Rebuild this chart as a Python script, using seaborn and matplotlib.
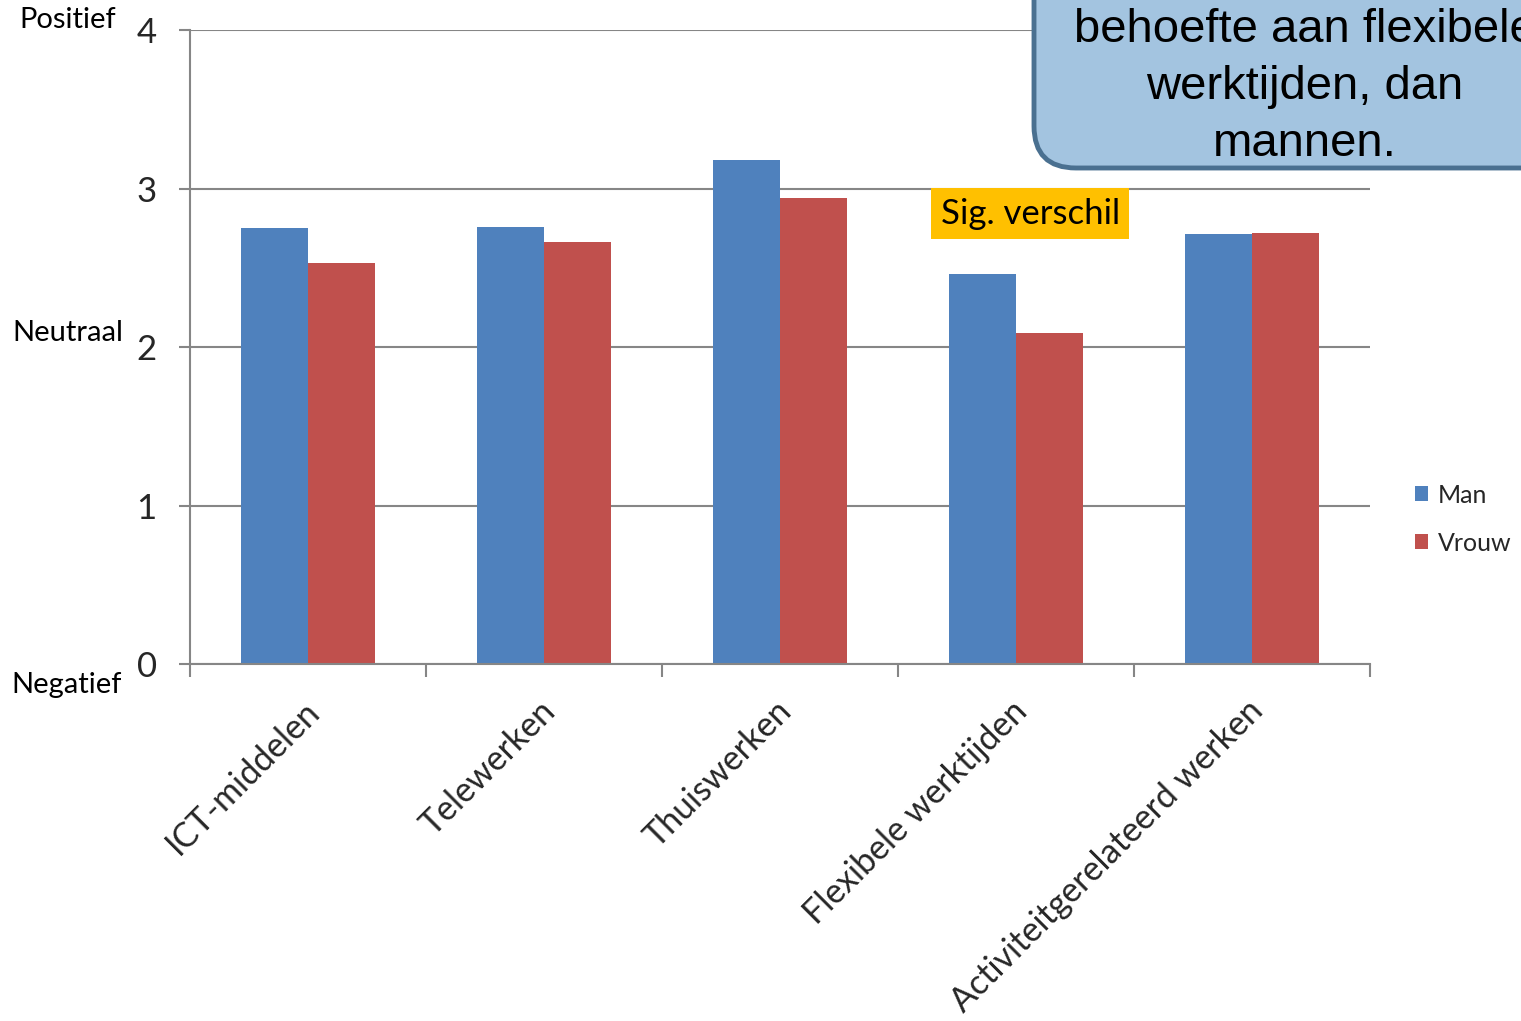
import numpy as np
import pandas as pd
import seaborn as sns
import matplotlib.pyplot as plt
import matplotlib.patches as mpatches
import matplotlib.transforms as mtransforms

# -----------------------
# Data
# -----------------------
categories = ["ICT-middelen", "Telewerken", "Thuiswerken",
              "Flexibele werktijden", "Activiteitgerelateerd werken"]
series = ["Man", "Vrouw"]
man = [2.75, 2.76, 3.18, 2.46, 2.71]
vrouw = [2.53, 2.66, 2.94, 2.09, 2.72]
yticks = [0, 1, 2, 3, 4]
scale_labels = ["Negatief", "Neutraal", "Positief"]
scale_values = [0, 2, 4]
callout_lines = ["behoefte aan flexibele", "werktijden, dan", "mannen."]

colors = ["#4f81bd", "#c0504d"]
gray = "#868686"

df = pd.DataFrame({
    "Categorie": categories * 2,
    "Score": man + vrouw,
    "Geslacht": [series[0]] * len(man) + [series[1]] * len(vrouw),
})

sns.set_theme(style="white")
plt.rcParams["font.family"] = ["Lato", "DejaVu Sans"]

fig = plt.figure(figsize=(15.21, 10.21), dpi=100)
fig.patch.set_facecolor("white")
ax = fig.add_axes([190 / 1521, 357 / 1021, 1180 / 1521, 634 / 1021])

sns.barplot(data=df, x="Categorie", y="Score", hue="Geslacht",
            order=categories, hue_order=series, palette=colors,
            width=0.57, gap=0, saturation=1, linewidth=0, ax=ax)

ax.set_ylim(0, 4)
ax.set_xlim(-0.5, len(categories) - 0.5)
ax.set_xlabel("")
ax.set_ylabel("")

# grid + spines
ax.set_axisbelow(True)
ax.yaxis.grid(True, color=gray, lw=1.5)
for s in ["top", "right"]:
    ax.spines[s].set_visible(False)
for s in ["left", "bottom"]:
    ax.spines[s].set_color(gray)
    ax.spines[s].set_linewidth(1.5)

ax.set_yticks(yticks)
ax.tick_params(axis="y", length=8, width=1.5, color=gray, pad=16,
               labelsize=25, left=True)
ax.set_xticks(np.arange(-0.5, len(categories), 1), minor=True)
ax.tick_params(axis="x", which="minor", length=9, width=1.5, color=gray,
               bottom=True)
ax.tick_params(axis="x", which="major", length=0, pad=22, labelsize=24.5)
for lab in ax.get_xticklabels():
    lab.set_rotation(45)
    lab.set_ha("right")
    lab.set_va("top")
    lab.set_rotation_mode("anchor")
    lab.set_transform(lab.get_transform() +
                      mtransforms.ScaledTranslation(-0.05, 0, fig.dpi_scale_trans))

# Positief / Neutraal / Negatief
blend = mtransforms.blended_transform_factory(fig.transFigure, ax.transData)
offsets = [-0.13, 0.09, 0.065]
right_px = [122, 123, 116]
for lab, v, off, rx in zip(scale_labels, scale_values, offsets, right_px):
    ax.text(rx / 1521, v + off, lab, transform=blend, ha="right",
            va="center", fontsize=21, color="black")

# legend
handles, labels = ax.get_legend_handles_labels()
ax.legend(handles, labels, loc="center left",
          bbox_to_anchor=(1392 / 1521, 502 / 1021),
          bbox_transform=fig.transFigure, frameon=False, fontsize=18,
          handlelength=0.55, handleheight=0.55, handletextpad=0.4,
          labelspacing=1.0)

# Sig. verschil label
ax.text(3.06, 2.84, "Sig. verschil", ha="center", va="center", fontsize=25,
        color="black",
        bbox=dict(boxstyle="square,pad=0.27", facecolor="#ffc000",
                  edgecolor="none"))

# callout box (top right, partly outside the figure)
box = mpatches.FancyBboxPatch((1034, 1021 - 168), 600, 320,
                              boxstyle="round,pad=0,rounding_size=42",
                              facecolor="#a3c4e0", edgecolor="#4a7090",
                              lw=3.5, transform=mtransforms.IdentityTransform())
fig.add_artist(box)
for i, line in enumerate(callout_lines):
    fig.text(1305 / 1521, 1 - (42 + 57 * i) / 1021, line, ha="center",
             va="baseline", fontsize=34, family=["Liberation Sans"],
             color="black")

fig.savefig("out.png", dpi=100)
